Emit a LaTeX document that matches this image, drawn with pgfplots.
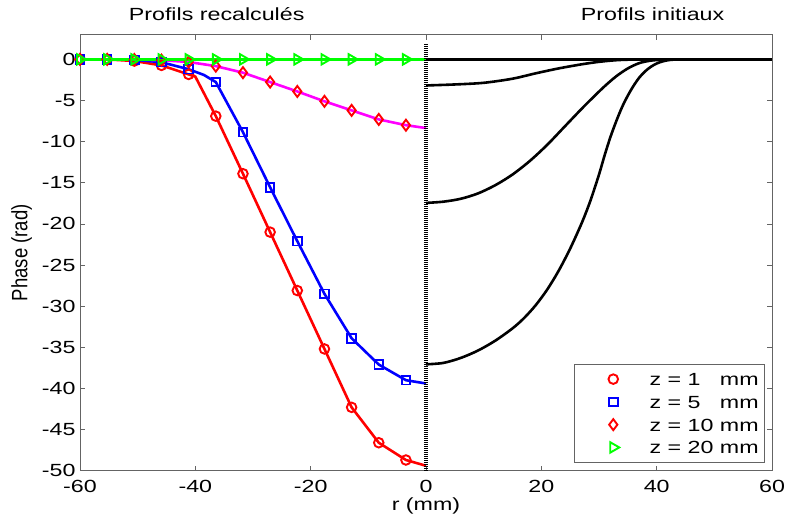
\documentclass[border=0pt]{standalone}
\usepackage{fontspec}
\usepackage{graphicx}
\setmainfont{Liberation Sans}
\newfontfamily\wfont{Liberation Sans}[FakeStretch=1.32]
\usepackage{pgfplots}
\pgfplotsset{compat=1.18}
\definecolor{mred}{RGB}{255,0,0}
\definecolor{mblue}{RGB}{0,0,255}
\definecolor{mmag}{RGB}{255,0,255}
\definecolor{mgreen}{RGB}{0,255,0}
\definecolor{axgray}{RGB}{100,100,100}
\newcommand{\tf}{\wfont\fontsize{17.6}{20}\selectfont}
\pgfplotsset{mylegend/.style={legend image code/.code={%
  \path[draw=none,fill=none] (-32.7pt,-4pt) rectangle (36.3pt,4pt);
  \draw[##1,only marks] plot coordinates {(0pt,0pt)};}}}
\begin{document}
\begin{tikzpicture}
\begin{axis}[
  scale only axis, width=692pt, height=436pt,
  xmin=-60, xmax=60, ymin=-50, ymax=3,
  clip=false,
  xtick={-60,-40,...,60}, ytick={-50,-45,...,0},
  tick align=inside, major tick length=5pt,
  axis line style={axgray, line width=0.8pt},
  tick style={axgray, line width=0.6pt},
  /pgf/number format/assume math mode=true,
  ticklabel style={font=\tf},
  xticklabel style={anchor=base, yshift=-22pt},
  yticklabel style={anchor=east, xshift=-1pt},
  xlabel={r (mm)}, ylabel={\scalebox{1}[1.2]{Phase (rad)}},
  xlabel style={font=\tf, at={(axis description cs:0.5,0)}, anchor=base, yshift=-40pt},
  ylabel style={font=\fontsize{18.5}{21}\selectfont, at={(axis description cs:-0.0843,0.5)}, anchor=center},
  legend style={at={(0.9899,0.0193)}, anchor=south east, draw=axgray, line width=0.7pt,
    font=\tf, inner xsep=6pt, inner ysep=5pt, row sep=3.77pt, column sep=0pt,
    nodes={inner sep=0pt, text height=16pt, text depth=3pt}},
  legend cell align=left,
]
% recomputed profiles (lines)
\addplot[mred, line width=2.6pt, forget plot] coordinates {
(-60,0) (-55.29,0) (-50.58,-0.2) (-45.87,-0.73) (-41.16,-1.83) (-40,-2.1)
(-36.45,-6.9) (-31.74,-13.9) (-27.03,-21.0) (-22.32,-28.1) (-17.61,-35.2)
(-12.9,-42.3) (-8.19,-46.6) (-3.48,-48.7) (0,-49.4)};
\addplot[mblue, line width=2.6pt, forget plot] coordinates {
(-60,0) (-55.29,0) (-50.58,-0.05) (-45.87,-0.35) (-41.16,-1.2) (-38.5,-1.9)
(-36.45,-2.76) (-31.74,-8.85) (-27.03,-15.55) (-22.32,-22.1) (-17.61,-28.5)
(-12.9,-33.9) (-8.19,-37.1) (-3.48,-39.0) (0,-39.4)};
\addplot[mmag, line width=2.6pt, forget plot] coordinates {
(-60,0) (-55.29,0) (-50.58,-0.02) (-45.87,-0.1) (-41.16,-0.32) (-36.45,-0.82)
(-31.74,-1.62) (-27.03,-2.76) (-22.32,-3.9) (-17.61,-5.1) (-12.9,-6.2)
(-8.19,-7.3) (-3.48,-8.0) (0,-8.35)};
\addplot[mgreen, line width=2.6pt, forget plot] coordinates {(-60,0) (0,0)};
% markers
\addplot[only marks, mylegend, mark=o, mark size=4.8pt, mark options={mred, line width=1.9pt}] coordinates {
(-60,0) (-55.29,0) (-50.58,-0.2) (-45.87,-0.73) (-41.16,-1.83)
(-36.45,-6.9) (-31.74,-13.9) (-27.03,-21.0) (-22.32,-28.1) (-17.61,-35.2)
(-12.9,-42.3) (-8.19,-46.6) (-3.48,-48.7)};
\addlegendentry{z = 1\phantom{0} mm}
\addplot[only marks, mylegend, mark=square, mark size=4.3pt, mark options={mblue, line width=1.9pt}] coordinates {
(-60,0) (-55.29,0) (-50.58,-0.05) (-45.87,-0.35) (-41.16,-1.2)
(-36.45,-2.76) (-31.74,-8.85) (-27.03,-15.55) (-22.32,-22.1) (-17.61,-28.5)
(-12.9,-33.9) (-8.19,-37.1) (-3.48,-39.0)};
\addlegendentry{z = 5\phantom{0} mm}
\addplot[only marks, mylegend, mark=diamond, mark size=5.5pt, mark options={mred, line width=1.9pt}] coordinates {
(-60,0) (-55.29,0) (-50.58,-0.02) (-45.87,-0.1) (-41.16,-0.32) (-36.45,-0.82)
(-31.74,-1.62) (-27.03,-2.76) (-22.32,-3.9) (-17.61,-5.1) (-12.9,-6.2)
(-8.19,-7.3) (-3.48,-8.0)};
\addlegendentry{z = 10 mm}
\addplot[only marks, mylegend, mark=triangle, mark size=6pt, mark options={mgreen, line width=1.9pt, rotate=-90}] coordinates {
(-60,0) (-55.29,0) (-50.58,0) (-45.87,0) (-41.16,0) (-36.45,0)
(-31.74,0) (-27.03,0) (-22.32,0) (-17.61,0) (-12.9,0) (-8.19,0) (-3.48,0)};
\addlegendentry{z = 20 mm}
% initial profiles (right)
\addplot[black, line width=2.6pt, forget plot] coordinates {(0,0) (60,0)};
\addplot[black, line width=2.6pt, smooth, tension=0.5, forget plot] coordinates {
(0,-3.17) (5,-3.05) (10,-2.85) (15,-2.35) (19,-1.7) (23,-1.1) (27,-0.6)
(30,-0.3) (33,-0.1) (36,-0.02) (39,0) (42,0)};
\addplot[black, line width=2.6pt, forget plot] coordinates {(42,0) (60,0)};
\addplot[black, line width=2.6pt, smooth, tension=0.5, forget plot] coordinates {
(0,-17.45) (3,-17.3) (6,-16.95) (9,-16.3) (12,-15.3) (15,-14.0) (18,-12.35)
(21,-10.4) (24,-8.2) (27,-6.0) (29,-4.6) (31,-3.25) (33,-2.05) (35,-1.1)
(37,-0.45) (39,-0.15) (41,-0.04) (43,0) (46,0)};
\addplot[black, line width=2.6pt, forget plot] coordinates {(46,0) (60,0)};
\addplot[black, line width=2.6pt, smooth, tension=0.5, forget plot] coordinates {
(0,-37.07) (3,-36.9) (6,-36.3) (9,-35.4) (12,-34.2) (15,-32.7) (17,-31.45)
(19,-29.9) (21,-28.0) (23,-25.7) (25,-23.0) (27,-19.9) (28.5,-17.2) (30,-14.0)
(31,-11.6) (32,-9.4) (33,-7.5) (34,-5.8) (35,-4.4) (36,-3.2) (37,-2.2)
(38,-1.45) (39,-0.9) (40,-0.5) (41,-0.25) (42,-0.1) (43,-0.03) (44.5,0) (47,0)};
\addplot[black, line width=2.6pt, forget plot] coordinates {(47,0) (60,0)};
% dotted separator
\addplot[black, line width=3.4pt, dash pattern=on 1pt off 1pt, forget plot] coordinates {(0,1.83) (0,-50)};
\node[font=\tf, anchor=base] at ([yshift=14pt]axis cs:-36.3,3) {Profils recalculés};
\node[font=\tf, anchor=base] at ([yshift=14pt]axis cs:39.3,3) {Profils initiaux};
\coordinate (bl) at (rel axis cs:0,0);
\coordinate (tr) at (rel axis cs:1,1);
\end{axis}
\pgfresetboundingbox
\path ([shift={(-80pt,-51.3pt)}]bl) rectangle ([shift={(17pt,34.7pt)}]tr);
\end{tikzpicture}
\end{document}
